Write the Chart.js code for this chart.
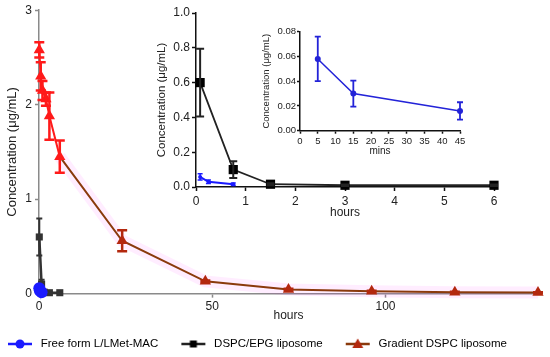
<!DOCTYPE html>
<html>
<head>
<meta charset="utf-8">
<script src="https://cdn.jsdelivr.net/npm/chart.js@4"></script>
<style>
	html, body { margin: 0; padding: 0; background: #fff; }
	#wrap { position: relative; width: 550px; height: 357px; }
	#wrap canvas { position: absolute; }
</style>
</head>
<body>
<div id="wrap">
	<canvas id="chart-main" width="550" height="357" style="left:0;top:0;width:550px;height:357px"></canvas>
	<canvas id="chart-hours" width="410" height="225" style="left:140px;top:0;width:410px;height:225px"></canvas>
	<canvas id="chart-mins" width="215" height="145" style="left:255px;top:20px;width:215px;height:145px"></canvas>
</div>
<script>
	// values (mean, sd)
	const freeHours = [0.083, 0.25, 0.75];
	const freeMins = [5, 15, 45];
	const freeConc = [0.058, 0.030, 0.016];
	const freeSd = [0.018, 0.0105, 0.007];

	const epgHours = [0.083, 0.75, 1.5, 3, 6];
	const epgConc = [0.60, 0.10, 0.016, 0.010, 0.010];
	const epgSd = [0.195, 0.048, 0.006, 0.004, 0.004];

	const gradHours = [0.083, 0.5, 1, 2, 3, 6, 24, 48, 72, 96, 120, 144];
	const gradConc = [2.58, 2.30, 2.15, 2.06, 1.88, 1.45, 0.56, 0.13, 0.045, 0.025, 0.015, 0.012];
	const gradSd = [0.08, 0.15, 0.10, 0.07, 0.25, 0.17, 0.11, 0.01, 0.008, 0.005, 0.004, 0.004];

	const seriesNames = ["Free form L/LMet-MAC", "DSPC/EPG liposome", "Gradient DSPC liposome"];

	const mainXTicks = [0, 50, 100];
	const mainYTicks = [0, 1, 2, 3];
	const hoursXTicks = [0, 1, 2, 3, 4, 5, 6];
	const hoursYTicks = [0, 0.2, 0.4, 0.6, 0.8, 1.0];
	const minsXTicks = [0, 5, 10, 15, 20, 25, 30, 35, 40, 45];
	const minsYTicks = [0, 0.02, 0.04, 0.06, 0.08];

	const FONT = "'Liberation Sans', Arial, sans-serif";
	const BLUE = "#1a1aff";
	const BLACK = "#222";
	const RED = "#ff1a1a";
	const BROWN = "#8a3a0c";
	const BROWN_MARK = "#b3280e";
	const HAZE = "rgba(255,0,255,0.07)";

	function toPoints(xs, ys)
	{
		return xs.map(function(x, i) { return { x: x, y: ys[i] }; });
	}

	function useTicks(list)
	{
		return function(scale) { scale.ticks = list.map(function(v) { return { value: v }; }); };
	}

	// vertical error bars with caps, drawn right after their dataset
	const errorBars = {
		id: "errorBars",
		afterDatasetDraw: function(chart, args)
		{
			let ds = chart.data.datasets[args.index];
			if (!ds.errors) return;
			let ctx = chart.ctx;
			let xs = chart.scales.x, ys = chart.scales.y;
			ctx.save();
			ctx.lineWidth = ds.errWidth || 1.5;
			ds.data.forEach(function(p, i)
			{
				let e = ds.errors[i];
				if (!e) return;
				let x = xs.getPixelForValue(p.x);
				let top = ys.getPixelForValue(p.y + e);
				let bot = ys.getPixelForValue(p.y - e);
				let cap = ds.capWidth || 4;
				ctx.strokeStyle = Array.isArray(ds.pointBorderColor) ? ds.pointBorderColor[i] : ds.borderColor;
				ctx.beginPath();
				ctx.moveTo(x, top); ctx.lineTo(x, bot);
				ctx.moveTo(x - cap, top); ctx.lineTo(x + cap, top);
				ctx.moveTo(x - cap, bot); ctx.lineTo(x + cap, bot);
				ctx.stroke();
			});
			ctx.restore();
		}
	};

	// small line+marker pictures for the legend
	function legendSymbol(kind)
	{
		let c = document.createElement("canvas");
		c.width = 26; c.height = 14;
		let g = c.getContext("2d");
		let lineColor = kind === "circle" ? BLUE : (kind === "rect" ? BLACK : BROWN);
		g.strokeStyle = lineColor;
		g.lineWidth = 2.5;
		g.beginPath(); g.moveTo(1, 7); g.lineTo(25, 7); g.stroke();
		if (kind === "circle")
		{
			g.fillStyle = BLUE;
			g.beginPath(); g.arc(13, 7, 4.5, 0, Math.PI * 2); g.fill();
		}
		else if (kind === "rect")
		{
			g.fillStyle = "#000";
			g.fillRect(9.5, 3.5, 7, 7);
		}
		else
		{
			g.fillStyle = BROWN_MARK;
			g.beginPath(); g.moveTo(13, 1.5); g.lineTo(18.5, 11); g.lineTo(7.5, 11); g.closePath(); g.fill();
		}
		return c;
	}

	function axisBase(color, tickLen)
	{
		return {
			type: "linear",
			border: { display: true, color: color, width: 1.5 },
			grid: { display: true, drawOnChartArea: false, drawTicks: true, tickLength: tickLen, tickColor: color, tickWidth: 1.5 }
		};
	}

	const gradColors = gradHours.map(function(h) { return h <= 6 ? RED : BROWN_MARK; });

	// ---------- main chart ----------
	let mainX = axisBase("#8a8a8a", 4);
	mainX.min = 0; mainX.max = 144;
	mainX.afterBuildTicks = useTicks(mainXTicks);
	mainX.afterFit = function(s) { s.height = 24.6; };
	mainX.ticks = { color: "#222", padding: 2, font: { family: FONT, size: 12 } };
	mainX.title = { display: true, text: "hours", color: "#222", padding: { top: 0, bottom: -3.8 }, font: { family: FONT, size: 12, lineHeight: 1 } };

	let mainY = axisBase("#8a8a8a", 4);
	mainY.min = 0; mainY.max = 3;
	mainY.afterBuildTicks = useTicks(mainYTicks);
	mainY.afterFit = function(s) { s.width = 54; };
	mainY.ticks = { color: "#222", padding: 3, font: { family: FONT, size: 12 } };
	mainY.title = { display: true, text: "Concentration (μg/mL)", color: "#222", padding: { top: 20, bottom: 0 }, font: { family: FONT, size: 13 } };

	new Chart("chart-main", {
		type: "line",
		data: {
			datasets: [
				{
					label: seriesNames[0],
					data: toPoints(freeHours, freeConc),
					borderColor: BLUE, backgroundColor: BLUE,
					borderWidth: 2, pointRadius: 6, pointBorderWidth: 0,
					clip: false
				},
				{
					label: seriesNames[1],
					data: toPoints(epgHours, epgConc),
					errors: epgSd, capWidth: 3, errWidth: 2,
					borderColor: "#333", backgroundColor: "#333",
					borderWidth: 2.5, pointStyle: "rect", pointRadius: 5, pointBorderWidth: 0,
					clip: false
				},
				{
					label: seriesNames[2],
					data: toPoints(gradHours, gradConc),
					errors: gradSd, capWidth: 5, errWidth: 2.5,
					borderColor: BROWN, borderWidth: 2,
					segment: { borderColor: function(c) { return c.p1.parsed.x <= 6 ? RED : BROWN; } },
					pointStyle: "triangle", pointRadius: 6.5, pointBorderWidth: 0,
					pointBackgroundColor: gradColors, pointBorderColor: gradColors,
					clip: false
				},
				{
					label: "haze",
					data: toPoints(gradHours, gradConc),
					borderColor: HAZE, borderWidth: 12,
					segment: { borderColor: function(c) { return c.p0.parsed.x < 6 ? "rgba(0,0,0,0)" : HAZE; } },
					pointRadius: 0, order: 10, clip: false
				}
			]
		},
		options: {
			responsive: false,
			animation: false,
			events: [],
			layout: { padding: { top: 10, right: 12, bottom: -2.75, left: -15 } },
			scales: { x: mainX, y: mainY },
			plugins: {
				tooltip: { enabled: false },
				legend: {
					position: "bottom",
					align: "start",
					labels: {
						usePointStyle: true,
						pointStyleWidth: 30,
						padding: 20,
						color: "#222",
						font: { family: FONT, size: 11.5 },
						generateLabels: function(chart)
						{
							let kinds = ["circle", "rect", "triangle"];
							return seriesNames.map(function(name, i)
							{
								return { text: name, pointStyle: legendSymbol(kinds[i]), fillStyle: "#fff", strokeStyle: "#fff", lineWidth: 0, hidden: false, datasetIndex: i };
							});
						}
					}
				}
			}
		},
		plugins: [errorBars]
	});

	// ---------- inset: hours 0-6 ----------
	let hoursX = axisBase("#111", 4);
	hoursX.min = 0; hoursX.max = 6;
	hoursX.afterBuildTicks = useTicks(hoursXTicks);
	hoursX.afterFit = function(s) { s.height = 38; };
	hoursX.ticks = { color: "#222", padding: 3, font: { family: FONT, size: 12 } };
	hoursX.title = { display: true, text: "hours", color: "#222", padding: { top: 0, bottom: 4.8 }, font: { family: FONT, size: 12 } };

	let hoursY = axisBase("#111", 4);
	hoursY.min = 0; hoursY.max = 1;
	hoursY.afterBuildTicks = useTicks(hoursYTicks);
	hoursY.afterFit = function(s) { s.width = 56; };
	hoursY.ticks = { color: "#222", padding: 2, font: { family: FONT, size: 12 }, callback: function(v) { return v.toFixed(1); } };
	hoursY.title = { display: true, text: "Concentration (μg/mL)", color: "#222", padding: { top: 14.8, bottom: 0 }, font: { family: FONT, size: 11.5 } };

	new Chart("chart-hours", {
		type: "line",
		data: {
			datasets: [
				{
					data: toPoints(freeHours, freeConc),
					errors: freeSd, capWidth: 2.5, errWidth: 1.5,
					borderColor: BLUE, backgroundColor: BLUE,
					borderWidth: 2, pointRadius: 2, pointBorderWidth: 0,
					clip: false
				},
				{
					data: toPoints(epgHours, epgConc),
					errors: epgSd, capWidth: 4, errWidth: 2,
					borderColor: BLACK, backgroundColor: "#000",
					borderWidth: 1.8, pointStyle: "rect", pointRadius: 6.5, pointBorderWidth: 0,
					clip: false
				}
			]
		},
		options: {
			responsive: false,
			animation: false,
			events: [],
			layout: { padding: { top: 13, right: 56, bottom: 0, left: 0 } },
			scales: { x: hoursX, y: hoursY },
			plugins: { legend: { display: false }, tooltip: { enabled: false } }
		},
		plugins: [errorBars]
	});

	// ---------- nested inset: minutes ----------
	let minsX = axisBase("#111", 3);
	minsX.min = 0; minsX.max = 45;
	minsX.afterBuildTicks = useTicks(minsXTicks);
	minsX.afterFit = function(s) { s.height = 34.3; };
	minsX.ticks = { color: "#222", padding: 1.5, maxRotation: 0, autoSkip: false, font: { family: FONT, size: 9.5 } };
	minsX.title = { display: true, text: "mins", color: "#222", padding: { top: 0, bottom: 8 }, font: { family: FONT, size: 10 } };

	let minsY = axisBase("#111", 3);
	minsY.min = 0; minsY.max = 0.08;
	minsY.afterBuildTicks = useTicks(minsYTicks);
	minsY.afterFit = function(s) { s.width = 45; };
	minsY.ticks = { color: "#222", padding: 1, font: { family: FONT, size: 9.5 }, callback: function(v) { return v.toFixed(2); } };
	minsY.title = { display: true, text: "Concentration (μg/mL)", color: "#222", padding: { top: 5.3, bottom: 0 }, font: { family: FONT, size: 9.5 } };

	new Chart("chart-mins", {
		type: "line",
		data: {
			datasets: [
				{
					data: toPoints(freeMins, freeConc),
					errors: freeSd, capWidth: 3, errWidth: 1.8,
					borderColor: "#2323d8", backgroundColor: "#2323d8",
					borderWidth: 1.5, pointRadius: 3, pointBorderWidth: 0,
					clip: false
				}
			]
		},
		options: {
			responsive: false,
			animation: false,
			events: [],
			layout: { padding: { top: 11.7, right: 10, bottom: 0, left: 0 } },
			scales: { x: minsX, y: minsY },
			plugins: { legend: { display: false }, tooltip: { enabled: false } }
		},
		plugins: [errorBars]
	});
</script>
</body>
</html>
